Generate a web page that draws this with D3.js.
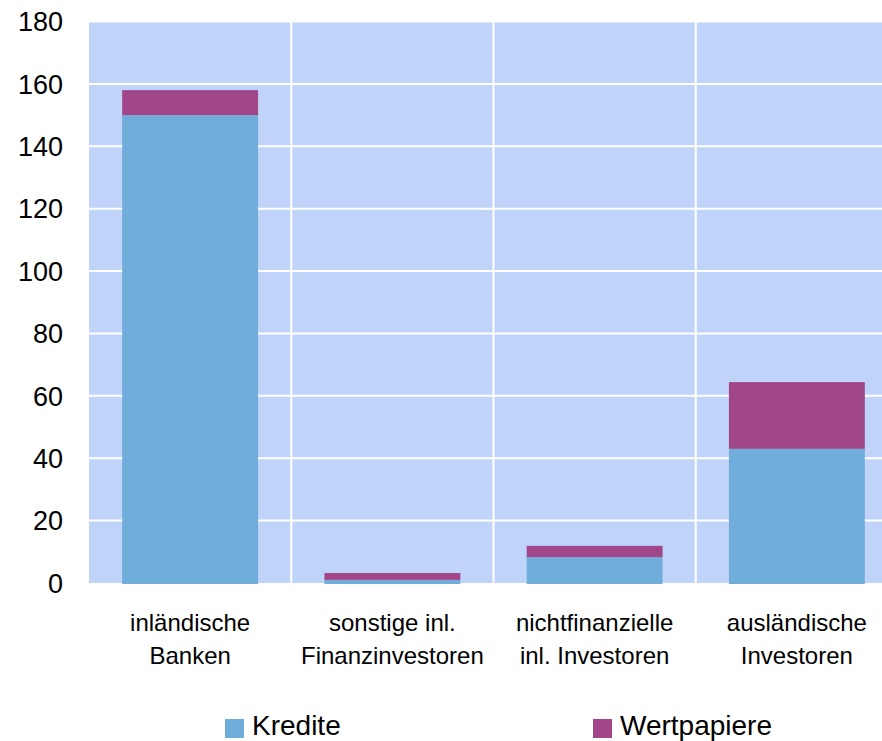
<!DOCTYPE html>
<html>
<head>
<meta charset="utf-8">
<script src="https://cdn.jsdelivr.net/npm/d3@7"></script>
<style>
  body { margin: 0; background: #fff; }
  text { font-family: "Liberation Sans", Arial, sans-serif; fill: #000; }
</style>
</head>
<body>
<div id="vis_container"></div>
<script>
// Categories (two-line labels) and the two stacked series.
var categories = ["inländische Banken", "sonstige inl. Finanzinvestoren", "nichtfinanzielle inl. Investoren", "ausländische Investoren"];
var category_lines = [["inländische", "Banken"], ["sonstige inl.", "Finanzinvestoren"], ["nichtfinanzielle", "inl. Investoren"], ["ausländische", "Investoren"]];
var kredite = [150, 1, 8.3, 43];
var wertpapiere = [8, 2.2, 3.6, 21.4];
var series_names = ["Kredite", "Wertpapiere"];
var y_ticks = [0, 20, 40, 60, 80, 100, 120, 140, 160, 180];

var width = 882;
var height = 741;

var colors = {Kredite: "#70ADDA", Wertpapiere: "#A2468A"};

// rows for stacking
var rows = categories.map(function(c, i) {
	return {cat: c, Kredite: kredite[i], Wertpapiere: wertpapiere[i]};
});
var stacked = d3.stack().keys(series_names)(rows);

var x = d3.scaleBand()
	.domain(categories)
	.range([89, 898])
	.paddingInner(0.328)
	.paddingOuter(0.164);

var y = d3.scaleLinear()
	.domain([0, 180])
	.range([583, 21.5]);

var svg = d3.select("#vis_container")
	.append("svg")
	.attr("width", width)
	.attr("height", height);

// plot background
svg.append("rect")
	.attr("x", 89)
	.attr("y", y(180))
	.attr("width", 898 - 89)
	.attr("height", y(0) - y(180))
	.style("fill", "#C0D3F9");

// horizontal gridlines
svg.selectAll(".hgrid").data(y_ticks.filter(function(d) { return d > 0; }))
	.enter().append("line")
	.attr("class", "hgrid")
	.attr("x1", 89)
	.attr("x2", 898)
	.attr("y1", function(d) { return y(d); })
	.attr("y2", function(d) { return y(d); })
	.style("stroke", "#fff")
	.style("stroke-width", 2);

// vertical gridlines between categories
svg.selectAll(".vgrid").data(categories.slice(1))
	.enter().append("line")
	.attr("class", "vgrid")
	.attr("x1", function(d) { return x(d) - x.step() * x.paddingInner() / 2; })
	.attr("x2", function(d) { return x(d) - x.step() * x.paddingInner() / 2; })
	.attr("y1", y(180))
	.attr("y2", y(0))
	.style("stroke", "#fff")
	.style("stroke-width", 2);

// stacked bars
svg.selectAll(".series").data(stacked)
	.enter().append("g")
	.attr("class", "series")
	.style("fill", function(d) { return colors[d.key]; })
	.selectAll("rect").data(function(d) { return d; })
	.enter().append("rect")
	.attr("x", function(d) { return x(d.data.cat); })
	.attr("width", x.bandwidth())
	.attr("y", function(d) { return y(d[1]); })
	.attr("height", function(d) { return y(d[0]) - y(d[1]) + (d[0] === 0 ? 1 : 0); });

// y tick labels
svg.selectAll(".ytick").data(y_ticks)
	.enter().append("text")
	.attr("class", "ytick")
	.attr("x", 63)
	.attr("y", function(d) { return y(d); })
	.attr("dy", "0.36em")
	.style("text-anchor", "end")
	.style("font-size", "27px")
	.text(function(d) { return d; });

// category labels
var cat_labels = svg.selectAll(".xlabel").data(categories)
	.enter().append("text")
	.attr("class", "xlabel")
	.attr("x", function(d) { return x(d) + x.bandwidth() / 2; })
	.attr("y", 631)
	.style("text-anchor", "middle")
	.style("font-size", "24px");

cat_labels.selectAll("tspan").data(function(d, i) { return category_lines[i]; })
	.enter().append("tspan")
	.attr("x", function() { var p = this.parentNode; return p.getAttribute("x"); })
	.attr("dy", function(d, i) { return i === 0 ? 0 : 33; })
	.text(function(d) { return d; });

// legend
var legend_x = [225, 593];
var legend = svg.selectAll(".legend").data(series_names)
	.enter().append("g")
	.attr("class", "legend")
	.attr("transform", function(d, i) { return "translate(" + legend_x[i] + ",719)"; });

legend.append("rect")
	.attr("width", 19)
	.attr("height", 19)
	.style("fill", function(d) { return colors[d]; });

legend.append("text")
	.attr("x", 27)
	.attr("y", 16)
	.style("font-size", "28px")
	.text(function(d) { return d; });
</script>
</body>
</html>
